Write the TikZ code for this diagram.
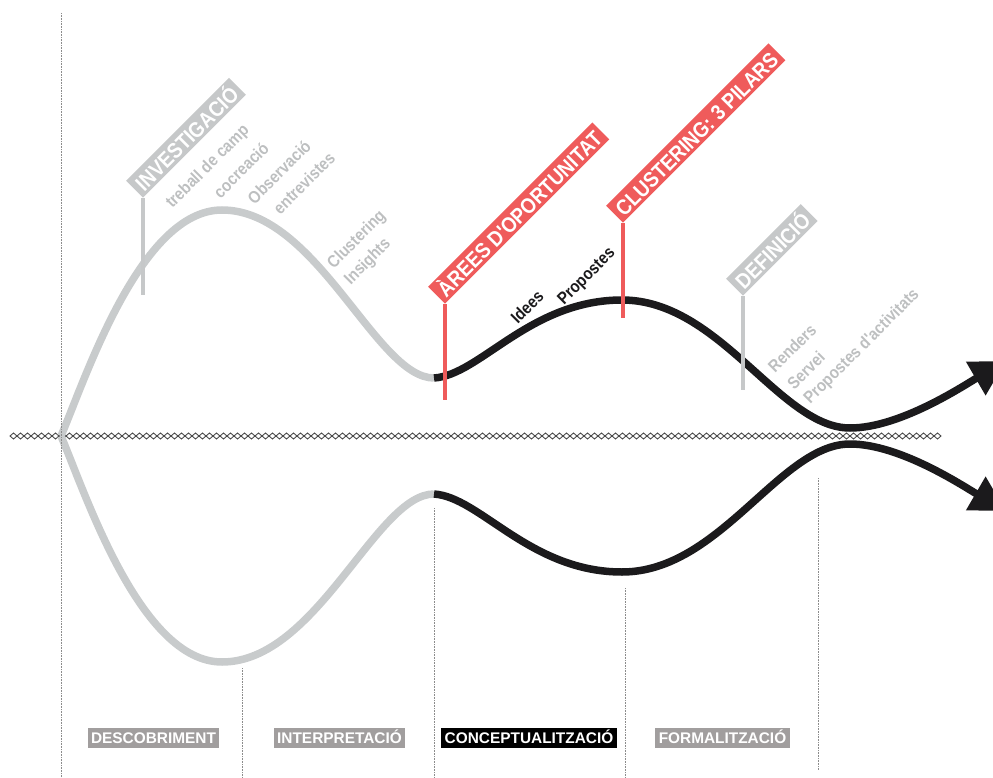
\documentclass[tikz,border=0pt]{standalone}
\usepackage{fontspec}
\setmainfont{Liberation Sans}
\newfontfamily\narrowfont[FakeStretch=0.88]{Liberation Sans}
\usetikzlibrary{arrows.meta}

\definecolor{curvegray}{HTML}{C8CBCC}
\definecolor{taggray}{HTML}{C6C8C9}
\definecolor{notegray}{HTML}{BDBFC0}
\definecolor{stagegray}{HTML}{A19E9E}
\definecolor{tagred}{HTML}{EF5B5B}
\definecolor{inkblack}{HTML}{1B1A1C}
\definecolor{chaingray}{HTML}{4A4A4A}
\definecolor{dividergray}{HTML}{8C8C8C}

\begin{document}
\begin{tikzpicture}[x=1pt, y=-1pt,
    early/.style={draw=curvegray, line width=7.5pt},
    late/.style={draw=inkblack, line width=7.5pt},
    tip/.style={-{Triangle[length=35pt, width=37pt]}},
    chain/.style={draw=chaingray, fill=white, line width=0.9pt},
    divider/.style={draw=dividergray, line width=0.7pt, dash pattern=on 0.8pt off 0.8pt},
    tag/.style={anchor=south west, rotate=45, inner xsep=5pt, inner ysep=3pt,
      text height=18pt, text depth=0pt, text=white,
      font=\narrowfont\bfseries\fontsize{21.5}{23}\selectfont},
    stick/.style={line width=3.5pt},
    note/.style={rotate=45, inner sep=0pt, text=notegray,
      font=\narrowfont\bfseries\fontsize{17}{18}\selectfont},
    stage/.style={fill=stagegray, text=white, inner xsep=3.5pt, inner ysep=0pt,
      minimum height=20pt, text height=11pt, text depth=0pt,
      font=\bfseries\fontsize{15.4}{16}\selectfont}]
    \useasboundingbox (0,0) rectangle (993,778);
    \clip (0,0) rectangle (993,778);
    % axis
    \foreach \i in {0,...,132}
      \draw [chain] ({10+7*\i},436) -- ++(3.5,-3) -- ++(3.5,3) -- ++(-3.5,3) -- cycle;
    % key points
    \coordinate (split) at (61,436);
    \coordinate (upA) at (222,210);
    \coordinate (upB) at (434,378);
    \coordinate (upC) at (622,300);
    \coordinate (upD) at (850,428);
    \coordinate (upE) at (1006,361);
    \coordinate (loA) at (222,662);
    \coordinate (loB) at (434,494);
    \coordinate (loC) at (622,572);
    \coordinate (loD) at (850,444);
    \coordinate (loE) at (1006,511);
    % upper curve
    \draw [early]     (split) .. controls +(24,-56) and +(-82,0) .. (upA)
                              .. controls +(95,0) and +(-58,0) .. (upB);
    \draw [late, tip] (upB) .. controls +(46,-3) and +(-92,0) .. (upC)
                            .. controls +(98,0) and +(-70,0) .. (upD)
                            .. controls +(50,0) and +(-43,25) .. (upE);
    % lower curve
    \draw [early]     (split) .. controls +(24,56) and +(-82,0) .. (loA)
                              .. controls +(95,0) and +(-58,0) .. (loB);
    \draw [late, tip] (loB) .. controls +(46,3) and +(-92,0) .. (loC)
                            .. controls +(98,0) and +(-70,0) .. (loD)
                            .. controls +(50,0) and +(-43,-25) .. (loE);
    % phase dividers
    \foreach \x/\top/\bot in {61/13/778, 242/668/778, 434/508/778, 625/588/778, 818/478/770}
      \draw [divider] (\x,\top) -- (\x,\bot);
    % tags
    \coordinate (investigacio-foot) at (143,295);
    \coordinate (arees-foot)        at (445,400);
    \coordinate (pilars-foot)       at (623,318);
    \coordinate (definicio-foot)    at (743,390);
    \node [tag, fill=taggray] (investigacio) at (143,198) {INVESTIGACIÓ};
    \node [tag, fill=tagred]  (arees)        at (445,304) {ÀREES D'OPORTUNITAT};
    \node [tag, fill=tagred]  (pilars)       at (623,223) {CLUSTERING: 3 PILARS};
    \node [tag, fill=taggray] (definicio)    at (743,296) {DEFINICIÓ};
    \draw [stick, taggray] (investigacio.south west) -- (investigacio-foot);
    \draw [stick, tagred]  (arees.south west) -- (arees-foot);
    \draw [stick, tagred]  (pilars.south west) -- (pilars-foot);
    \draw [stick, taggray] (definicio.south west) -- (definicio-foot);
    % notes
    \node [note] (treball)     at (208,167) {treball de camp};
    \node [note] (cocreacio)   at (241,170) {cocreació};
    \node [note] (observacio)  at (279,172) {Observació};
    \node [note] (entrevistes) at (304,183) {entrevistes};
    \node [note] (clustering)  at (357,240) {Clustering};
    \node [note] (insights)    at (368,262) {Insights};
    \node [note, text=inkblack] (idees)     at (527,307) {Idees};
    \node [note, text=inkblack] (propostes) at (587,277) {Propostes};
    \node [note] (renders)     at (792,348) {Renders};
    \node [note] (servei)      at (806,370) {Servei};
    \node [note] (activitats)  at (862,347) {Propostes d'activitats};
    % stages
    \node [stage] (descobriment)      at (153.5,738) {DESCOBRIMENT};
    \node [stage] (interpretacio)     at (339.5,738) {INTERPRETACIÓ};
    \node [stage, fill=black] (conceptualitzacio) at (529,738) {CONCEPTUALITZACIÓ};
    \node [stage] (formalitzacio)     at (722.5,738) {FORMALITZACIÓ};
\end{tikzpicture}
\end{document}
